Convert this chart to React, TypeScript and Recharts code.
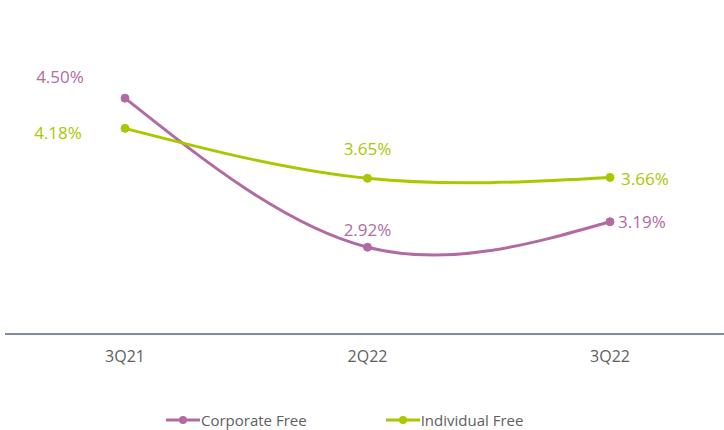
import React from "react";
import { LineChart, Line, XAxis, YAxis, Legend, LabelList } from "recharts";

const categories = ["3Q21", "2Q22", "3Q22"];
const corporateFree = [4.5, 2.92, 3.19];
const individualFree = [4.18, 3.65, 3.66];

const data = categories.map((q, i) => ({
  q,
  corporate: corporateFree[i],
  individual: individualFree[i],
}));

const PURPLE = "#B26BA0";
const GREEN = "#A8C800";
const FONT = "'Open Sans', 'DejaVu Sans', sans-serif";

const corpOffsets = [
  { dx: -65, dy: -22, anchor: "middle" },
  { dx: 0, dy: -18, anchor: "middle" },
  { dx: 8, dy: 0, anchor: "start" },
];
const indOffsets = [
  { dx: -67, dy: 4, anchor: "middle" },
  { dx: 0, dy: -30, anchor: "middle" },
  { dx: 11, dy: 1, anchor: "start" },
];

const makeLabel = (offsets: any[], color: string) => (props: any) => {
  const { x, y, value, index } = props;
  const o = offsets[index];
  return (
    <text
      x={x + o.dx}
      y={y + o.dy}
      textAnchor={o.anchor}
      dominantBaseline="central"
      fill={color}
      fontSize={17}
      fontFamily={FONT}
    >
      {Number(value).toFixed(2)}%
    </text>
  );
};

const legendItems = [
  { name: "Corporate Free", color: PURPLE },
  { name: "Individual Free", color: GREEN },
];

const renderLegend = () => (
  <div style={{ display: "flex", justifyContent: "flex-start", paddingLeft: 166, fontFamily: FONT, fontSize: 15, color: "#606060" }}>
    {legendItems.map((it, i) => (
      <div key={it.name} style={{ display: "flex", alignItems: "center", marginRight: i === 0 ? 79 : 0 }}>
        <svg width={34} height={12} style={{ marginRight: 1 }}>
          <line x1={0} y1={6} x2={34} y2={6} stroke={it.color} strokeWidth={3} />
          <circle cx={17} cy={6} r={4} fill={it.color} />
        </svg>
        <span>{it.name}</span>
      </div>
    ))}
  </div>
);

export default function App() {
  return (
    <div style={{ position: "absolute", left: 0, top: 0, width: 724, height: 430, background: "#fff" }}>
      <LineChart width={724} height={430} data={data} margin={{ top: 51, right: 0, left: 5, bottom: 36 }}>
        <XAxis
          dataKey="q"
          axisLine={{ stroke: "#7D8CA0", strokeWidth: 2 }}
          tickLine={false}
          padding={{ left: 120, right: 114 }}
          tick={{ fill: "#606060", fontSize: 16, fontFamily: FONT }}
          tickMargin={11}
          height={30}
        />
        <YAxis hide domain={[2, 5]} />
        <Legend
          verticalAlign="bottom"
          height={30}
          content={renderLegend}
          wrapperStyle={{ top: 410, bottom: "auto", left: 0, width: 724 }}
        />
        <Line
          type="natural"
          dataKey="corporate"
          stroke={PURPLE}
          strokeWidth={3}
          dot={{ r: 4, fill: PURPLE, stroke: PURPLE, strokeWidth: 1 }}
          isAnimationActive={false}
        >
          <LabelList dataKey="corporate" content={makeLabel(corpOffsets, PURPLE)} />
        </Line>
        <Line
          type="natural"
          dataKey="individual"
          stroke={GREEN}
          strokeWidth={3}
          dot={{ r: 4, fill: GREEN, stroke: GREEN, strokeWidth: 1 }}
          isAnimationActive={false}
        >
          <LabelList dataKey="individual" content={makeLabel(indOffsets, GREEN)} />
        </Line>
      </LineChart>
    </div>
  );
}
